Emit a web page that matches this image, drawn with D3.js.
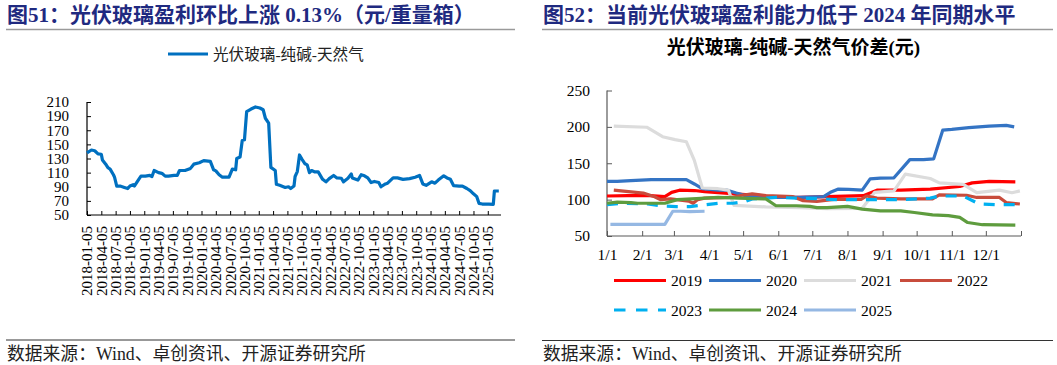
<!DOCTYPE html>
<html><head><meta charset="utf-8">
<script src="https://cdn.jsdelivr.net/npm/d3@7"></script>
<style>body{margin:0;background:#fff}svg{display:block}</style>
</head><body>
<svg id="c" width="1057" height="365"></svg>
<script>
// ---------- Left chart data (weeks since 2018-01-05) ----------
const leftWeeks = [0,4,7,10,13,14,17,19,21,24,25,27,30,34,37,39,42,43,47,49,53,57,59,61,65,68,71,74,79,82,84,89,94,97,102,106,112,115,117,120,123,129,132,135,136,139,141,143,145,149,153,157,160,162,165,167,171,172,175,180,183,185,188,189,191,193,195,198,200,202,204,207,210,214,217,220,224,227,231,233,237,240,241,246,249,252,255,258,261,265,267,271,273,278,282,287,293,298,302,305,308,313,316,319,324,327,330,333,338,341,345,348,351,354,356,359,365,369,370,374];
const leftValues = [138,142,141,136.5,136,128,122,117,115,107,103.5,91,91,89,87.5,91,93,91,100.5,105,105,106,104.5,113,110,109,105,105,106,106,113,113,116,122,124,127,126,114,112.5,107,103.5,103.5,115,114,130,132,155.5,156.5,196.5,200,203,201.5,199,187,180,117.5,113,93.5,92,89,90,87.5,91,104.5,111.5,135,129.5,122.5,121,110,113,111,111,100.5,97,101.5,106,102.5,102,97,102,108,102.5,99.5,107,105.5,102.5,96,97.5,96,90,94,95,102.5,102.5,100.5,101.5,103.5,106,94,92,97,95,99.5,105.5,102.5,100.5,91.5,91,91,87.5,84.5,80,76,66.5,65.5,65.5,65,84,84];
const leftTickLabels = ["2018-01-05","2018-04-05","2018-07-05","2018-10-05","2019-01-05","2019-04-05","2019-07-05","2019-10-05","2020-01-05","2020-04-05","2020-07-05","2020-10-05","2021-01-05","2021-04-05","2021-07-05","2021-10-05","2022-01-05","2022-04-05","2022-07-05","2022-10-05","2023-01-05","2023-04-05","2023-07-05","2023-10-05","2024-01-05","2024-04-05","2024-07-05","2024-10-05","2025-01-05"];
const leftYTicks = [50,70,90,110,130,150,170,190,210];

// ---------- Right chart data ([day of year, value]) ----------
const s2019 = [[0,105],[18,105.5],[38,105.5],[51,104],[57,110],[64,113],[77,112.5],[86,111],[104,109],[122,107],[134,106],[146,103],[170,103],[194,104],[226,105.5],[238,113],[259,113],[285,114.5],[311,118],[322,123],[337,125],[360,124.5]];
const s2020 = [[0,125],[9,125],[21,126],[39,127.5],[57,127.5],[70,127.5],[77,121.5],[84,115],[98,113],[106,113],[114,109],[122,105.5],[140,103],[170,103],[191,104],[197,110],[204,114.5],[213,114],[225,113],[232,128.5],[241,129.5],[253,130],[267,155],[279,155],[288,156],[296,195.5],[304,196.5],[319,199],[337,201],[352,202],[359,200]];
const s2021 = [[6,201],[35,199.5],[49,186.5],[60,182.5],[70,179.5],[77,154],[84,116],[98,115],[107,113],[112,92],[140,90],[170,89],[194,87.5],[225,88],[236,110],[253,112],[263,135],[285,129],[293,123],[314,121],[326,109.5],[346,113],[357,109.5],[364,112]];
const s2022 = [[6,113],[32,109],[42,104],[47,100],[56,101],[72,98],[76,95],[80,100],[86,102],[110,103],[119,106],[128,108],[140,105.5],[164,104],[173,98.5],[185,97.5],[200,100.3],[224,100.3],[229,105],[238,102],[259,101],[287,101],[293,106.5],[317,106],[326,103],[346,103],[352,96],[364,94]];
const s2023 = [[0,93],[12,95],[36,94],[48,91.5],[61,90.5],[73,90.5],[99,95],[111,95],[122,97.5],[128,101],[149,103],[170,102],[191,101],[200,100],[229,100],[259,100],[285,102],[293,105],[314,105],[328,94],[343,93],[360,93]];
const s2024 = [[0,95],[9,96.5],[21,96],[27,95],[51,95],[62,100],[79,101.5],[98,103],[116,102],[140,101],[149,91.6],[167,91.6],[179,90.7],[185,89],[194,89],[212,90.7],[225,87],[241,84.6],[259,84.6],[271,82.3],[287,79],[301,78],[311,75.5],[318,68.5],[331,65.5],[360,65]];
const s2025 = [[3,66],[20,66],[51,66],[58,84],[65,84],[73,83.5],[86,84]];
const seriesNames = ["2019","2020","2021","2022","2023","2024","2025"];
const seriesColors = ["#ff0000","#3474c4","#dcdcdc","#c84c3c","#00b0f0","#5e9c3e","#95b8e3"];
const monthLabels = ["1/1","2/1","3/1","4/1","5/1","6/1","7/1","8/1","9/1","10/1","11/1","12/1"];
const rightYTicks = [50,100,150,200,250];

const svg = d3.select("#c");
const SERIF = "'Liberation Serif','Times New Roman','Noto Sans CJK SC',serif";
const NAVY = "#1f2a80";
svg.append("rect").attr("width",1057).attr("height",365).attr("fill","#fff");

// ---------- Titles, rules, sources ----------
function header(x0, x1, title) {
  svg.append("text").attr("x", x0 + 1).attr("y", 21.5).attr("font-family", SERIF)
    .attr("font-size", 21).attr("font-weight", "bold").attr("fill", NAVY).text(title);
  svg.append("line").attr("x1", x0).attr("x2", x1).attr("y1", 29.5).attr("y2", 29.5)
    .attr("stroke", "#9a9a9a").attr("stroke-width", 1.5);
}
function footer(x0, x1, y) {
  svg.append("line").attr("x1", x0).attr("x2", x1).attr("y1", y).attr("y2", y)
    .attr("stroke", "#333").attr("stroke-width", 1);
  svg.append("text").attr("x", x0 + 1).attr("y", y + 19.5).attr("font-family", SERIF)
    .attr("font-size", 17.8).attr("fill", "#222").text("数据来源：Wind、卓创资讯、开源证券研究所");
}
header(6, 515, "图51：光伏玻璃盈利环比上涨 0.13%（元/重量箱）");
header(542, 1053, "图52：当前光伏玻璃盈利能力低于 2024 年同期水平");
footer(6, 515, 340);
footer(542, 1053, 340.5);

// ---------- Left chart ----------
const xL = d3.scaleLinear().domain([0, 376]).range([87, 501]);
const yL = d3.scaleLinear().domain([50, 210]).range([215, 102]);

const gLy = svg.append("g").attr("transform", `translate(${xL.range()[0]},0)`)
  .call(d3.axisLeft(yL).tickValues(leftYTicks).tickSize(-4).tickPadding(18).tickFormat(d3.format("d")));
const gLx = svg.append("g").attr("transform", `translate(0,${yL.range()[0]})`)
  .call(d3.axisBottom(xL).tickValues(leftTickLabels.map((d, i) => i * 13)).tickSize(-4)
    .tickFormat((d, i) => leftTickLabels[i]));
[gLy, gLx].forEach(g => {
  g.select(".domain").attr("stroke", "#000").attr("stroke-width", 1.2);
  g.selectAll(".tick line").attr("stroke", "#000");
  g.selectAll("text").attr("font-family", SERIF).attr("font-size", 15).attr("fill", "#000");
});
gLx.select(".domain").attr("d", `M${xL.range()[0]},0H${xL.range()[1]}`);
gLy.select(".domain").attr("d", `M0,${yL.range()[0]}V${yL.range()[1]}`);
gLx.selectAll(".tick text").attr("transform", "rotate(-90)").attr("text-anchor", "end")
  .attr("x", -11).attr("y", 0).attr("dy", "0.33em");

svg.append("path").datum(leftWeeks.map((w, i) => [w, leftValues[i]]))
  .attr("fill", "none").attr("stroke", "#0070c0").attr("stroke-width", 3.2)
  .attr("stroke-linejoin", "round")
  .attr("d", d3.line().x(d => xL(d[0])).y(d => yL(d[1])));

// left legend
svg.append("line").attr("x1", 168).attr("x2", 208).attr("y1", 54).attr("y2", 54)
  .attr("stroke", "#0070c0").attr("stroke-width", 3.2);
svg.append("text").attr("x", 213).attr("y", 59.5).attr("font-family", SERIF).attr("font-size", 15.6)
  .attr("fill", "#222").text("光伏玻璃-纯碱-天然气");

// ---------- Right chart ----------
svg.append("text").attr("x", 793.5).attr("y", 53.5).attr("text-anchor", "middle")
  .attr("font-family", SERIF).attr("font-size", 19).attr("font-weight", "bold").attr("fill", "#000")
  .text("光伏玻璃-纯碱-天然气价差(元)");

const xR = d3.scaleLinear().domain([0, 365]).range([607, 1021]);
const yR = d3.scaleLinear().domain([50, 250]).range([236, 90.5]);
const yearStart = new Date(2019, 0, 1);
const monthDays = d3.timeMonth.range(yearStart, new Date(2020, 0, 2)).map(d => d3.timeDay.count(yearStart, d));

const gRy = svg.append("g").attr("transform", `translate(${xR.range()[0]},0)`)
  .call(d3.axisLeft(yR).tickValues(rightYTicks).tickSize(-5).tickPadding(17).tickFormat(d3.format("d")));
const gRx = svg.append("g").attr("transform", `translate(0,${yR.range()[0]})`)
  .call(d3.axisBottom(xR).tickValues(monthDays).tickSize(-5).tickPadding(13)
    .tickFormat((d, i) => monthLabels[i] || ""));
[gRy, gRx].forEach(g => {
  g.select(".domain").attr("stroke", "#595959").attr("stroke-width", 1.2);
  g.selectAll(".tick line").attr("stroke", "#595959");
  g.selectAll("text").attr("font-family", SERIF).attr("font-size", 15.5).attr("fill", "#000");
});
gRx.select(".domain").attr("d", `M${xR.range()[0]},0H${xR.range()[1]}`);
gRy.select(".domain").attr("d", `M0,${yR.range()[0]}V${yR.range()[1]}`);

const allSeries = [s2019, s2020, s2021, s2022, s2023, s2024, s2025];
const lineR = d3.line().x(d => xR(d[0])).y(d => yR(d[1]));
allSeries.forEach((s, i) => {
  svg.append("path").datum(s).attr("fill", "none").attr("stroke", seriesColors[i])
    .attr("stroke-width", 3.2).attr("stroke-linejoin", "round")
    .attr("stroke-dasharray", seriesNames[i] === "2023" ? "11,9" : null)
    .attr("d", lineR);
});

// right legend
const legX = [614, 709, 804, 900];
seriesNames.forEach((n, i) => {
  const row = Math.floor(i / 4), col = i % 4;
  const x = legX[col], y = row === 0 ? 280.5 : 310;
  svg.append("line").attr("x1", x).attr("x2", x + 52).attr("y1", y).attr("y2", y)
    .attr("stroke", seriesColors[i]).attr("stroke-width", 3.2)
    .attr("stroke-dasharray", n === "2023" ? "11.5,10.5" : null);
  svg.append("text").attr("x", x + 57).attr("y", y + 5.5).attr("font-family", SERIF)
    .attr("font-size", 15.5).attr("fill", "#000").text(n);
});
</script>
</body></html>
